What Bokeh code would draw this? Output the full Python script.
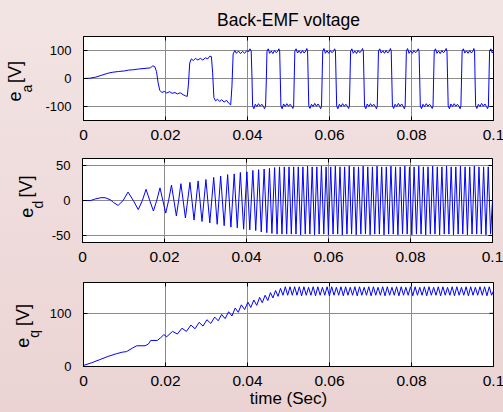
from bokeh.plotting import figure
from bokeh.layouts import column, row
from bokeh.models import Range1d, LinearAxis, FixedTicker, Grid
from bokeh.core.properties import value
from bokeh.embed import file_html
from bokeh.resources import INLINE

# ---------------- data (time in ms, voltages in V) ----------------
title_text = "Back-EMF voltage"
x_label_text = "time (Sec)"
x_ticks = [0, 0.02, 0.04, 0.06, 0.08, 0.1]
x_tick_labels = ["0", "0.02", "0.04", "0.06", "0.08", "0.1"]

ea_ticks = [-100, 0, 100]
ea_tick_labels = ["-100", "0", "100"]
ed_ticks = [-50, 0, 50]
ed_tick_labels = ["-50", "0", "50"]
eq_ticks = [0, 100]
eq_tick_labels = ["0", "100"]

ea_t_ms = [0, 1.5, 3.0, 4.5, 6.0, 7.0, 8.5, 10.0, 11.0, 12.0,
           13.5, 15.0, 16.3, 16.9, 17.4, 17.8, 18.2, 18.6, 19.1, 19.7,
           20.3, 21.0, 21.6, 22.3, 22.9, 23.6, 24.3, 24.9, 25.3, 25.6,
           25.9, 26.3, 26.8, 27.3, 27.9, 28.5, 29.1, 29.7, 30.3, 30.8,
           31.2, 31.5, 31.8, 32.2, 32.7, 33.2, 33.7, 34.3, 34.9, 35.4,
           35.9, 36.2, 36.5, 36.9, 37.3, 37.8, 38.3, 38.8, 39.3, 39.8,
           40.3, 40.6, 40.9,
           41.1, 41.25, 41.55, 41.9, 42.3, 42.7, 43.1, 43.5, 43.9, 44.15, 44.4,
           44.6, 44.75, 45.05, 45.4, 45.8, 46.2, 46.6, 47.0, 47.4, 47.65, 47.85,
           48.0, 48.15, 48.45, 48.8, 49.2, 49.6, 50.0, 50.4, 50.8, 51.05, 51.25,
           51.4, 51.55, 51.85, 52.2, 52.6, 53.0, 53.4, 53.8, 54.2, 54.45, 54.65,
           54.8, 54.95, 55.25, 55.6, 56.0, 56.4, 56.8, 57.2, 57.6, 57.85, 58.05,
           58.2, 58.35, 58.65, 59.0, 59.4, 59.8, 60.2, 60.6, 61.0, 61.25, 61.45,
           61.6, 61.75, 62.05, 62.4, 62.8, 63.2, 63.6, 64.0, 64.4, 64.65, 64.85,
           65.0, 65.15, 65.45, 65.8, 66.2, 66.6, 67.0, 67.4, 67.8, 68.05, 68.25,
           68.4, 68.55, 68.85, 69.2, 69.6, 70.0, 70.4, 70.8, 71.2, 71.45, 71.65,
           71.8, 71.95, 72.25, 72.6, 73.0, 73.4, 73.8, 74.2, 74.6, 74.85, 75.05,
           75.2, 75.35, 75.65, 76.0, 76.4, 76.8, 77.2, 77.6, 78.0, 78.25, 78.45,
           78.6, 78.75, 79.05, 79.4, 79.8, 80.2, 80.6, 81.0, 81.4, 81.65, 81.85,
           82.0, 82.15, 82.45, 82.8, 83.2, 83.6, 84.0, 84.4, 84.8, 85.05, 85.25,
           85.4, 85.55, 85.85, 86.2, 86.6, 87.0, 87.4, 87.8, 88.2, 88.45, 88.65,
           88.8, 88.95, 89.25, 89.6, 90.0, 90.4, 90.8, 91.2, 91.6, 91.85, 92.05,
           92.2, 92.35, 92.65, 93.0, 93.4, 93.8, 94.2, 94.6, 95.0, 95.2, 95.38,
           95.5, 95.65, 95.95, 96.3, 96.7, 97.1, 97.5, 97.9, 98.3, 98.55, 98.75,
           98.9, 99.05, 99.35, 99.7, 100.0]
ea_v = [0, 1, 5, 12, 19, 22, 25, 27, 30, 31,
        34, 36, 38, 45, 42, 25, -15, -42, -50, -46,
        -52, -47, -53, -50, -55, -51, -58, -62, -64, -20,
        55, 70, 64, 72, 66, 72, 66, 74, 70, 80,
        78, 20, -68, -80, -74, -82, -76, -84, -78, -88,
        -94, -30, 88, 100, 90, 98, 89, 97, 90, 99,
        96, 106, 98,
        0, -98, -108, -92, -100, -90, -99, -92, -100, -108, -100,
        0, 98, 106, 90, 98, 89, 100, 92, 98, 106, 98,
        0, -98, -108, -91, -100, -90, -99, -92, -100, -107, -99,
        0, 98, 106, 91, 99, 90, 100, 91, 98, 107, 99,
        0, -98, -107, -92, -100, -89, -99, -91, -100, -108, -99,
        0, 98, 107, 90, 99, 90, 100, 92, 98, 106, 98,
        0, -98, -108, -92, -100, -90, -99, -92, -100, -107, -99,
        0, 98, 106, 90, 98, 89, 100, 92, 99, 107, 98,
        0, -98, -108, -91, -100, -90, -99, -92, -100, -108, -99,
        0, 98, 106, 91, 99, 90, 100, 91, 98, 107, 99,
        0, -98, -107, -92, -100, -89, -99, -91, -100, -108, -99,
        0, 98, 107, 90, 99, 90, 100, 92, 98, 106, 98,
        0, -98, -108, -92, -100, -90, -99, -92, -100, -107, -99,
        0, 98, 106, 90, 98, 89, 100, 92, 99, 107, 98,
        0, -98, -108, -91, -100, -90, -99, -92, -100, -108, -99,
        0, 98, 106, 91, 99, 90, 100, 91, 98, 107, 99,
        0, -98, -107, -92, -100, -89, -99, -91, -100, -108, -99,
        0, 98, 106, 91, 98]

# start-up part of e_d / e_q
ed_t_start_ms = [0, 2.0, 3.0, 4.5, 5.5, 6.8, 7.6, 8.7, 9.9, 11.1,
                 12.4, 13.6, 14.6, 15.5, 16.4, 17.3, 18.1, 18.9, 19.6, 20.3,
                 21.0, 21.7, 22.3, 22.9, 23.45, 24.0, 24.55, 25.1, 25.65, 26.2,
                 26.7, 27.2, 27.7, 28.2]
ed_v_start = [0, 0, 2, 4, 4, 1, -3, -7, 0, 12,
              0, -13, 0, 16, 0, -15, 0, 18, 0, -18,
              0, 22, 0, -22, 0, 24, 0, -25, 0, 26,
              0, -28, 0, 28]
eq_t_start_ms = [0, 2.0, 4.0, 6.0, 8.0, 9.5, 10.5, 12.0, 13.0, 15.0,
                 15.8, 16.4, 18.0, 18.8, 19.6, 20.3, 21.7, 22.9, 24.0, 25.1,
                 26.2, 27.2, 28.2]
eq_v_start = [2, 7, 13, 19, 24, 27, 28, 35, 39, 39,
              42, 49, 49, 54, 60, 56, 66, 61, 72, 66,
              78, 71, 83]

# acceleration part (extremes of the ripple)
acc_t_ms = [29.15, 30.1, 31.05, 32.0, 32.85, 33.7, 34.55, 35.4, 36.2, 37.0,
            37.75, 38.5, 39.3, 40.1, 40.8, 41.55, 42.25, 42.95, 43.6, 44.3,
            44.95, 45.6, 46.2, 46.85, 47.45, 48.05, 48.65, 49.22, 49.8, 50.37,
            50.93, 51.5]
ed_v_acc = [-30, 30, -32, 33, -34, 35, -36, 37, -38, 38,
            -39, 40, -41, 41, -42, 43, -43, 44, -45, 45,
            -46, 46, -47, 47, -48, 48, -48, 48, -48, 48,
            -48, 48]
eq_v_acc = [76, 88, 81, 93, 86, 98, 90, 103, 95, 110,
            102, 116, 107, 121, 111, 125, 115, 130, 120, 134,
            124, 139, 129, 143, 132, 147, 134, 150, 134, 150,
            134, 150]

# constant-speed part (extremes of the ripple)
osc_t_ms = [52.07, 52.63, 53.20, 53.76, 54.33, 54.89, 55.46, 56.02, 56.59, 57.15,
            57.72, 58.28, 58.85, 59.41, 59.98, 60.54, 61.11, 61.67, 62.24, 62.80,
            63.37, 63.93, 64.50, 65.06, 65.63, 66.19, 66.76, 67.32, 67.89, 68.45,
            69.02, 69.58, 70.15, 70.71, 71.28, 71.84, 72.41, 72.97, 73.54, 74.10,
            74.67, 75.23, 75.80, 76.36, 76.93, 77.49, 78.06, 78.62, 79.19, 79.75,
            80.32, 80.88, 81.45, 82.01, 82.58, 83.14, 83.71, 84.27, 84.84, 85.40,
            85.97, 86.53, 87.10, 87.66, 88.23, 88.79, 89.36, 89.92, 90.49, 91.05,
            91.62, 92.18, 92.75, 93.31, 93.88, 94.44, 95.01, 95.57, 96.14, 96.70,
            97.27, 97.83, 98.40, 98.96, 99.53, 100.0]
ed_v_osc = [-48, 48, -49, 48, -48, 49, -48, 48, -49, 48,
            -48, 49, -48, 48, -49, 48, -48, 49, -48, 48,
            -49, 48, -48, 49, -48, 48, -49, 48, -48, 49,
            -48, 48, -49, 48, -48, 49, -48, 48, -49, 48,
            -48, 49, -48, 48, -49, 48, -48, 49, -48, 48,
            -49, 48, -48, 49, -48, 48, -49, 48, -48, 49,
            -48, 48, -49, 48, -48, 49, -48, 48, -49, 48,
            -48, 49, -48, 48, -49, 48, -48, 49, -48, 48,
            -48, 48, -49, 48, -48, 0]
eq_v_osc = [134, 150, 133, 150, 134, 149, 134, 150, 133, 150,
            134, 149, 134, 150, 133, 150, 134, 149, 134, 150,
            133, 150, 134, 149, 134, 150, 133, 150, 134, 149,
            134, 150, 133, 150, 134, 149, 134, 150, 133, 150,
            134, 149, 134, 150, 133, 150, 134, 149, 134, 150,
            133, 150, 134, 149, 134, 150, 133, 150, 134, 149,
            134, 150, 133, 150, 134, 149, 134, 150, 133, 150,
            134, 149, 134, 150, 133, 150, 134, 149, 134, 150,
            134, 150, 133, 150, 134, 142]

# ---------------- assemble series ----------------
def sec(ms_list):
    return [t / 1000.0 for t in ms_list]

def pair(t, v):
    n = min(len(t), len(v))
    return t[:n], v[:n]

ea_x, ea_y = pair(sec(ea_t_ms), ea_v)
ed_x, ed_y = pair(sec(ed_t_start_ms + acc_t_ms + osc_t_ms), ed_v_start + ed_v_acc + ed_v_osc)
eq_x, eq_y = pair(sec(eq_t_start_ms + acc_t_ms + osc_t_ms), eq_v_start + eq_v_acc + eq_v_osc)

# ---------------- styling ----------------
FONT = "Liberation Sans"
LINE = "#0000ff"
GRID = "#8c8c8c"
FW, FH = 410, 84
ANG = 1.5707963267948966


def add_axis(p, where, ticks, labels, size, standoff):
    ax = LinearAxis(ticker=FixedTicker(ticks=ticks))
    ax.major_tick_in = 4
    ax.major_tick_out = 0
    ax.minor_tick_line_color = None
    ax.axis_line_color = "black"
    ax.major_tick_line_color = "black"
    ax.major_label_text_font = FONT
    ax.major_label_text_color = "black"
    ax.major_label_overrides = dict(zip(ticks, labels))
    ax.major_label_text_font_size = size
    ax.major_label_standoff = standoff
    p.add_layout(ax, where)
    return ax


def panel(x, y, yr, yticks, ylabels, left, top, bottom):
    p = figure(frame_width=FW, frame_height=FH, x_range=Range1d(0, 0.1),
               y_range=Range1d(yr[0], yr[1]), output_backend="svg",
               toolbar_location=None, x_axis_type=None, y_axis_type=None,
               min_border_left=left, min_border_right=12,
               min_border_top=top, min_border_bottom=bottom)
    p.background_fill_color = "white"
    p.border_fill_color = None
    p.outline_line_color = "black"
    p.outline_line_width = 1
    p.add_layout(Grid(dimension=0, ticker=FixedTicker(ticks=x_ticks),
                      grid_line_color=GRID, grid_line_width=1))
    p.add_layout(Grid(dimension=1, ticker=FixedTicker(ticks=yticks),
                      grid_line_color=GRID, grid_line_width=1))
    xa = add_axis(p, "below", x_ticks, x_tick_labels, "15.5px", 9)
    add_axis(p, "left", yticks, ylabels, "13px", 12)
    # inward tick marks on the top and right edges of the box
    p.scatter(x_ticks, [yr[1]] * len(x_ticks), marker="dash", size=8, angle=ANG,
              line_color="black", line_width=1)
    p.scatter([0.1] * len(yticks), yticks, marker="dash", size=8,
              line_color="black", line_width=1)
    p.line(x, y, line_color=LINE, line_width=1)
    return p, xa


def label_fig(width, height, sub, e_pos, sub_pos, v_pos):
    # the row aligns this figure's frame with the plot frame beside it,
    # so its data units are pixels measured up from the plot frame's bottom
    f = figure(width=width, height=height, output_backend="svg", title=None,
               toolbar_location=None, x_axis_type=None, y_axis_type=None,
               min_border=0, x_range=Range1d(0, width), y_range=Range1d(0, FH))
    f.outline_line_color = None
    f.background_fill_color = None
    f.border_fill_color = None
    for text, (sx, sy), size in (("e", e_pos, "18px"), (sub, sub_pos, "14px"),
                                 ("[V]", v_pos, "18px")):
        f.text(x=[sx], y=[sy], text=[text], angle=ANG, text_font=value(FONT),
               text_font_size=value(size), text_align="left",
               text_baseline="alphabetic", text_color="black")
    return f


# row 1: e_a
p1, _ = panel(ea_x, ea_y, (-150, 150), ea_ticks, ea_tick_labels, 39, 36, 30)
p1.title.text = title_text
p1.title.align = "center"
p1.title.text_font = FONT
p1.title.text_font_size = "17.5px"
p1.title.text_font_style = "normal"
p1.title.text_color = "black"
p1.title.standoff = 13
l1 = label_fig(42, 150, "a", (14.3, 19), (26.2, 28), (14.3, 37.5))

# row 2: e_d
p2, _ = panel(ed_x, ed_y, (-60, 60), ed_ticks, ed_tick_labels, 33, 8, 30)
l2 = label_fig(48, 122, "d", (25.8, 24.8), (37.2, 34), (25.8, 45))

# row 3: e_q
p3, xa3 = panel(eq_x, eq_y, (0, 158), eq_ticks, eq_tick_labels, 35, 10, 45)
xa3.axis_label = x_label_text
xa3.axis_label_text_font = FONT
xa3.axis_label_text_font_size = "17px"
xa3.axis_label_text_font_style = "normal"
xa3.axis_label_text_color = "black"
xa3.axis_label_standoff = 0
l3 = label_fig(46, 139, "q", (22.3, 18.8), (33.2, 28.8), (22.3, 40.5))

layout = column(row(l1, p1, spacing=0), row(l2, p2, spacing=0),
                row(l3, p3, spacing=0), spacing=0)
try:
    from bokeh.models import GlobalInlineStyleSheet
    layout.stylesheets = [GlobalInlineStyleSheet(
        css="html,body{background:linear-gradient(#f3e4e4,#ebd3d3);}")]
except Exception:
    pass

html = file_html(layout, INLINE)
open("out.html", "w").write(html)
